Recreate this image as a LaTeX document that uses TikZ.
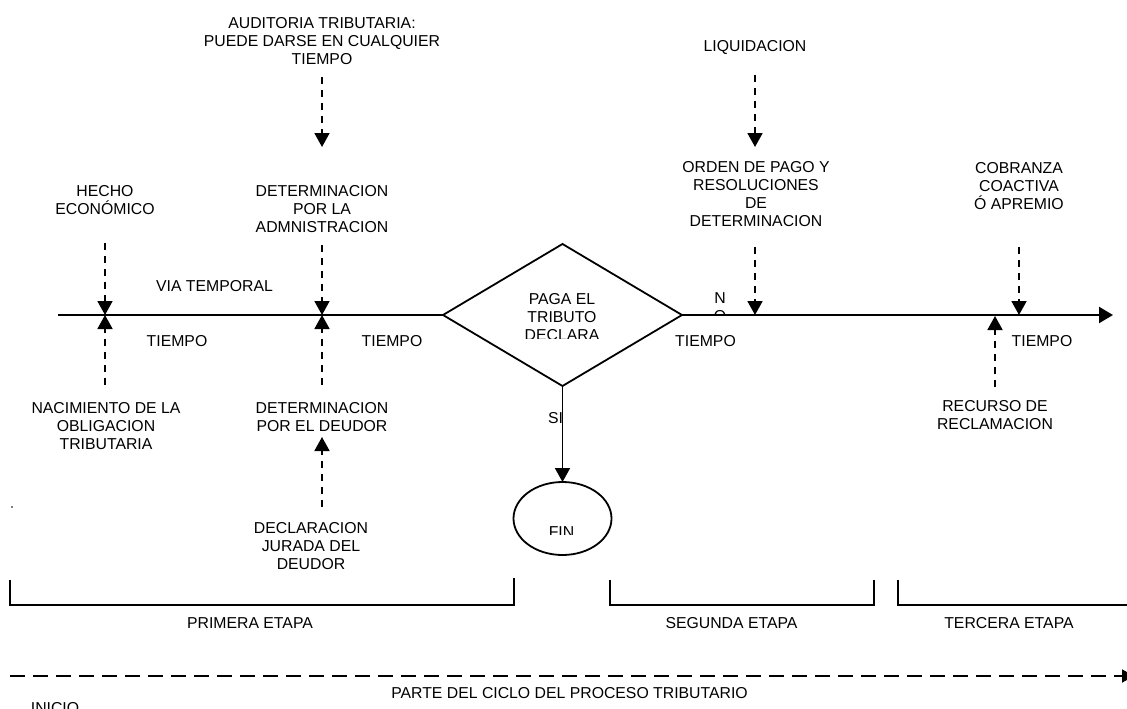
\documentclass[tikz,border=0pt]{standalone}
\usepackage{fontspec}
\setmainfont{Liberation Sans}
\usetikzlibrary{arrows.meta,shapes.geometric}
\begin{document}
\begin{tikzpicture}[x=1pt,y=-1pt,
  lbl/.style={align=center,inner sep=0pt,font=\fontsize{15.8}{18}\selectfont},
  solidln/.style={line width=1.8pt},
  mainln/.style={line width=2.2pt},
  dsh/.style={line width=1.8pt,dash pattern=on 7pt off 6pt},
  tipd/.style={-{Triangle[length=14pt,width=15pt]}},
  br/.style={line width=1.6pt},
  longdash/.style={line width=1.8pt,dash pattern=on 15pt off 8pt}
]
\clip (0,0) rectangle (1127,709);
\fill[white] (0,0) rectangle (1127,709);

% decision and end
\node[draw,diamond,minimum width=239pt,minimum height=142pt,inner sep=0pt,outer sep=0pt,line width=1.8pt] (dia) at (562.5,315) {};
\node[draw,ellipse,minimum width=98pt,minimum height=73pt,inner sep=0pt,outer sep=0pt,line width=1.8pt] (fin) at (562.5,518.5) {};

% main time line
\coordinate (start) at (58,315);
\coordinate (endp) at (1113,315);
\draw[mainln] (start) -- (dia.west);
\draw[mainln,-{Triangle[length=14pt,width=16pt]}] (dia.east) -- (endp);
\draw[solidln,tipd] (dia.south) -- (fin.north);

% texts inside shapes (clipped as in the original)
\begin{scope}
\clip (500,285) rectangle (625,338.5);
\node[lbl] (qtxt) at (562,317) {PAGA EL\\TRIBUTO\\DECLARA};
\end{scope}
\begin{scope}
\clip (520,515) rectangle (605,534.5);
\node[lbl] (fintxt) at (561.5,532) {FIN};
\end{scope}
\begin{scope}
\clip (705,285) rectangle (735,315);
\node[lbl] (notxt) at (720,307) {N\\O};
\end{scope}
\node[lbl] (si) at (555.5,418) {SI};

% labels
\node[lbl] (aud) at (322,41) {AUDITORIA TRIBUTARIA:\\PUEDE DARSE EN CUALQUIER\\TIEMPO};
\node[lbl] (hecho) at (105,200) {HECHO\\ECONÓMICO};
\node[lbl] (detadm) at (322,209) {DETERMINACION\\POR LA\\ADMNISTRACION};
\node[lbl] (liq) at (755,47) {LIQUIDACION};
\node[lbl] (orden) at (756,194) {ORDEN DE PAGO Y\\RESOLUCIONES\\DE\\DETERMINACION};
\node[lbl] (cob) at (1019,186) {COBRANZA\\COACTIVA\\Ó APREMIO};
\node[lbl] (via) at (214.5,286) {VIA TEMPORAL};
\node[lbl] (t1) at (177,341.5) {TIEMPO};
\node[lbl] (t2) at (392,341.5) {TIEMPO};
\node[lbl] (t3) at (705.5,341.5) {TIEMPO};
\node[lbl] (t4) at (1042,341.5) {TIEMPO};
\node[lbl] (nac) at (106,426) {NACIMIENTO DE LA\\OBLIGACION\\TRIBUTARIA};
\node[lbl] (detdeu) at (322,417) {DETERMINACION\\POR EL DEUDOR};
\node[lbl] (decl) at (311,546) {DECLARACION\\JURADA DEL\\DEUDOR};
\node[lbl] (rec) at (995,415) {RECURSO DE\\RECLAMACION};

% dashed connectors
\coordinate (L1) at (105,315);
\coordinate (L2) at (322,315);
\coordinate (L3) at (755,315);
\coordinate (L4) at (1019,315);
\coordinate (L5) at (995,316);
\coordinate (a1) at (105,243);
\coordinate (b1) at (105,385);
\coordinate (a2) at (322,245);
\coordinate (b2) at (322,385);
\coordinate (c2) at (322,77);
\coordinate (d2) at (322,147);
\coordinate (e2) at (322,507);
\coordinate (f2) at (322,437);
\coordinate (c3) at (755,75);
\coordinate (d3) at (755,147);
\coordinate (a3) at (755,247);
\coordinate (a4) at (1019,247);
\coordinate (b5) at (995,387);
\draw[dsh,tipd] (a1) -- (L1);
\draw[dsh,tipd] (b1) -- (L1);
\draw[dsh,tipd] (a2) -- (L2);
\draw[dsh,tipd] (b2) -- (L2);
\draw[dsh,tipd] (c2) -- (d2);
\draw[dsh,tipd] (e2) -- (f2);
\draw[dsh,tipd] (c3) -- (d3);
\draw[dsh,tipd] (a3) -- (L3);
\draw[dsh,tipd] (a4) -- (L4);
\draw[dsh,tipd] (b5) -- (L5);

% stage brackets
\draw[br] (10,580) -- (10,605) -- (514,605) -- (514,578);
\draw[br] (610,580) -- (610,605) -- (874,605) -- (874,580);
\draw[br] (898,580) -- (898,605) -- (1130,605);
\node[lbl] (e1) at (250,623) {PRIMERA ETAPA};
\node[lbl] (e2t) at (731.5,623) {SEGUNDA ETAPA};
\node[lbl] (e3) at (1009,623) {TERCERA ETAPA};

% cycle line
\coordinate (cs) at (10,676);
\coordinate (ce) at (1134,676);
\draw[longdash,-{Triangle[length=12pt,width=13pt]}] (cs) -- (ce);
\node[lbl] (parte) at (569.5,693) {PARTE DEL CICLO DEL PROCESO TRIBUTARIO};
\node[lbl] (ini) at (55,708) {INICIO};

\fill (12,507) circle (0.8);
\end{tikzpicture}
\end{document}
